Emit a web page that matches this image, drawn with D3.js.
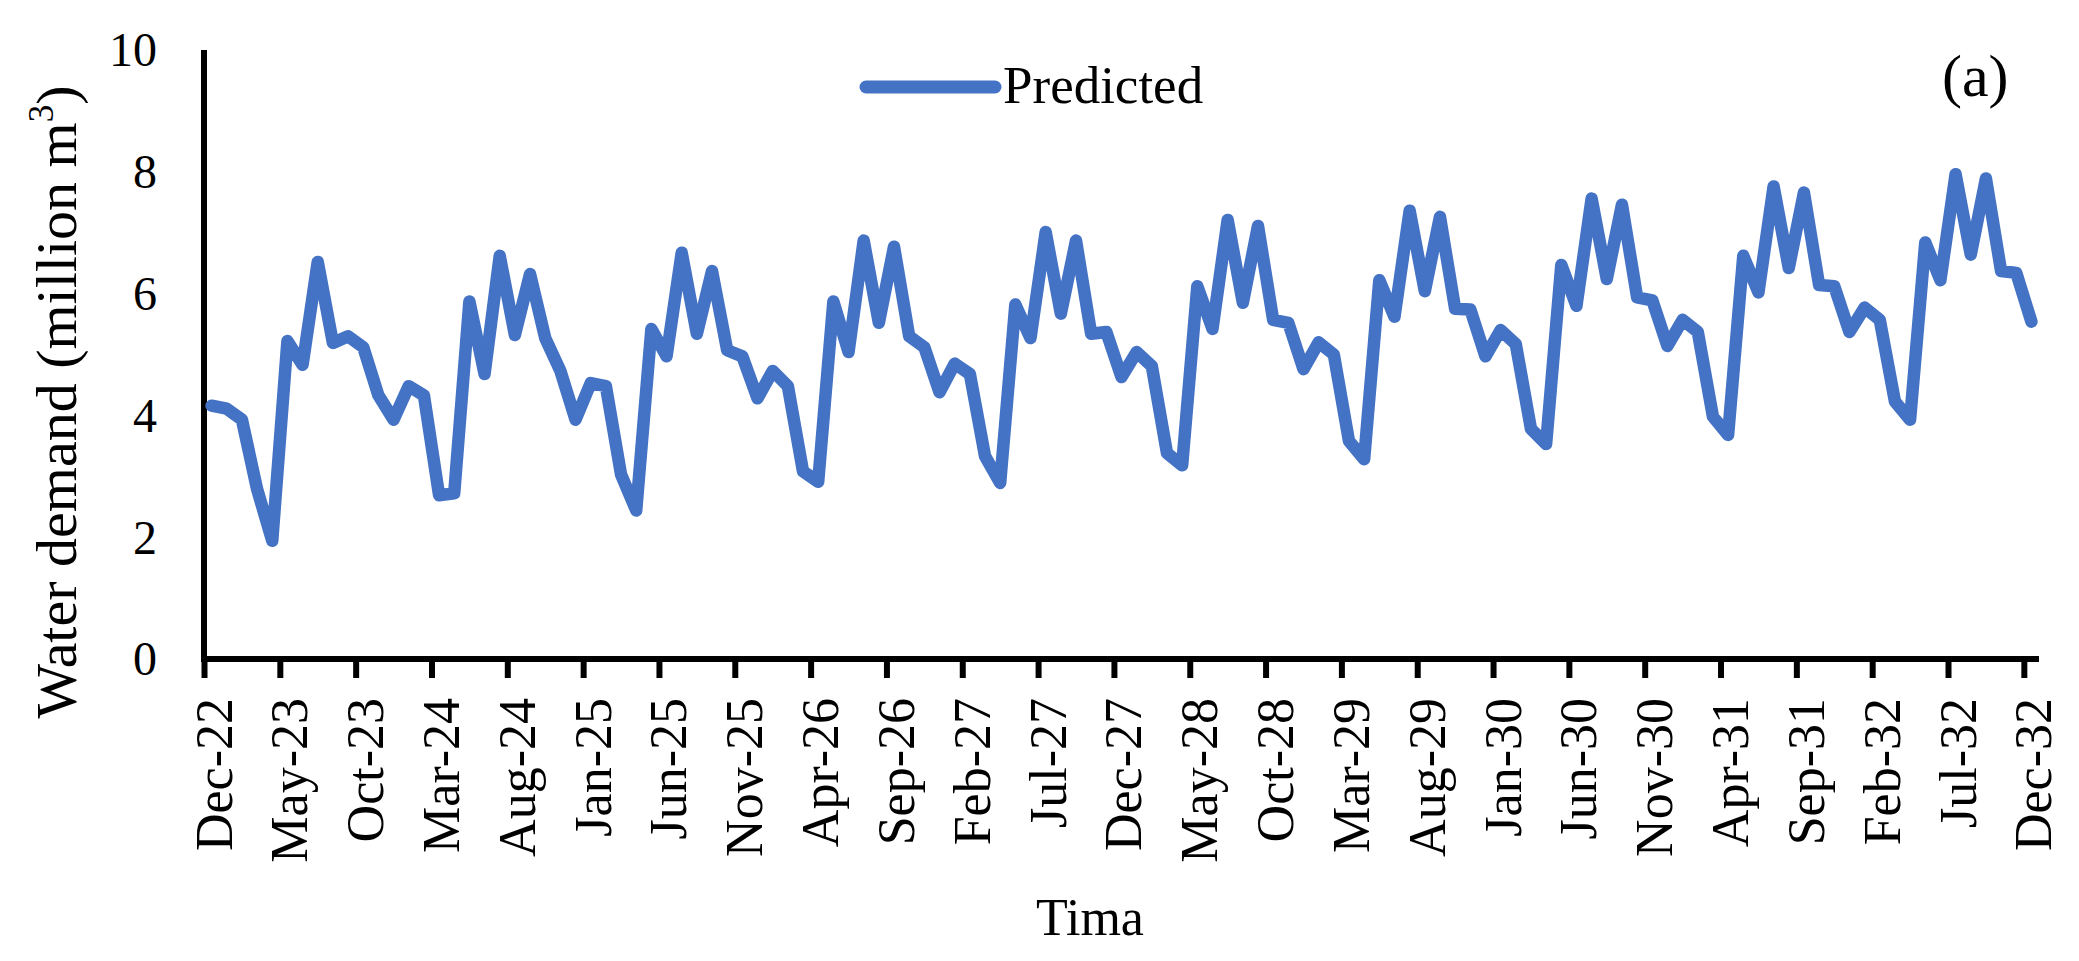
<!DOCTYPE html>
<html>
<head>
<meta charset="utf-8">
<script src="https://cdn.jsdelivr.net/npm/d3@7/dist/d3.min.js"></script>
<style>
  html, body { margin: 0; padding: 0; background: #ffffff; }
  svg { display: block; }
  text { font-family: "Liberation Serif", "Times New Roman", serif; fill: #000; }
</style>
</head>
<body>
<script>
// ---- Data ----
const tickLabels = ["Dec-22","May-23","Oct-23","Mar-24","Aug-24","Jan-25","Jun-25","Nov-25","Apr-26","Sep-26",
  "Feb-27","Jul-27","Dec-27","May-28","Oct-28","Mar-29","Aug-29","Jan-30","Jun-30","Nov-30",
  "Apr-31","Sep-31","Feb-32","Jul-32","Dec-32"];
const yTicks = [0, 2, 4, 6, 8, 10];
const seriesName = "Predicted";
// monthly predicted water demand, Dec-22 .. Dec-32 (million m3)
const predicted = [
  4.16, 4.11, 3.93, 2.79, 1.94, 5.22, 4.83, 6.52, 5.19, 5.30, 5.12, 4.33,
  3.93, 4.48, 4.33, 2.69, 2.72, 5.87, 4.68, 6.62, 5.32, 6.32, 5.27, 4.73,
  3.93, 4.53, 4.48, 3.03, 2.44, 5.42, 4.97, 6.67, 5.34, 6.37, 5.07, 4.97,
  4.28, 4.73, 4.48, 3.08, 2.91, 5.87, 5.04, 6.87, 5.52, 6.77, 5.30, 5.12,
  4.38, 4.85, 4.68, 3.33, 2.89, 5.82, 5.27, 7.01, 5.67, 6.87, 5.34, 5.37,
  4.63, 5.04, 4.81, 3.38, 3.18, 6.12, 5.42, 7.21, 5.85, 7.11, 5.57, 5.52,
  4.76, 5.20, 5.00, 3.58, 3.28, 6.22, 5.62, 7.36, 6.04, 7.26, 5.75, 5.74,
  4.97, 5.40, 5.17, 3.78, 3.53, 6.47, 5.80, 7.56, 6.24, 7.46, 5.94, 5.89,
  5.14, 5.57, 5.37, 3.98, 3.68, 6.62, 6.02, 7.76, 6.42, 7.66, 6.14, 6.12,
  5.37, 5.77, 5.57, 4.23, 3.93, 6.84, 6.22, 7.96, 6.64, 7.89, 6.37, 6.34,
  5.54
];

// ---- Layout ----
const W = 2079, H = 961;
const svg = d3.select("body").append("svg").attr("width", W).attr("height", H);
svg.append("rect").attr("width", W).attr("height", H).attr("fill", "#fff");

const nMonths = predicted.length; // 121
const x = d3.scaleLinear().domain([0, nMonths]).range([204, 2039]);
const y = d3.scaleLinear().domain([0, 10]).range([659, 50]);

const serif = '"Liberation Serif", "Times New Roman", serif';

// ---- X axis ----
const tickVals = tickLabels.map((_, k) => k * 5);
const xAxis = d3.axisBottom(x)
  .tickValues(tickVals)
  .tickFormat(d => tickLabels[d / 5])
  .tickSize(19)
  .tickSizeOuter(0);
const gx = svg.append("g").attr("transform", `translate(0,${y(0)})`).call(xAxis);
gx.select(".domain").remove();
gx.selectAll(".tick line").attr("stroke", "#000").attr("stroke-width", 6);
gx.selectAll(".tick text")
  .attr("font-family", serif)
  .attr("font-size", 52)
  .attr("fill", "#000")
  .attr("transform", "rotate(-90)")
  .attr("x", -39)
  .attr("y", 27)
  .attr("dy", 0)
  .attr("text-anchor", "end");

// ---- Y axis ----
const yAxis = d3.axisLeft(y).tickValues(yTicks).tickSize(0).tickPadding(47).tickFormat(d3.format("d"));
const gy = svg.append("g").attr("transform", `translate(${x(0)},0)`).call(yAxis);
gy.select(".domain").remove();
gy.selectAll(".tick text")
  .attr("font-family", serif)
  .attr("font-size", 48)
  .attr("fill", "#000")
  .attr("dy", "0.33em");

// axis lines
svg.append("line")
  .attr("x1", x(0)).attr("x2", x(0))
  .attr("y1", y(10)).attr("y2", y(0) + 3)
  .attr("stroke", "#000").attr("stroke-width", 6);
svg.append("line")
  .attr("x1", x(0) - 3).attr("x2", x(nMonths))
  .attr("y1", y(0)).attr("y2", y(0))
  .attr("stroke", "#000").attr("stroke-width", 6);

// ---- Series line ----
const line = d3.line()
  .x((d, i) => x(i + 0.5))
  .y(d => y(d));
svg.append("path")
  .datum(predicted)
  .attr("d", line)
  .attr("fill", "none")
  .attr("stroke", "#4472C4")
  .attr("stroke-width", 12.5)
  .attr("stroke-linejoin", "round")
  .attr("stroke-linecap", "round");

// ---- Legend ----
svg.append("line")
  .attr("x1", 866).attr("x2", 995)
  .attr("y1", 87).attr("y2", 87)
  .attr("stroke", "#4472C4").attr("stroke-width", 13)
  .attr("stroke-linecap", "round");
svg.append("text")
  .attr("x", 1003).attr("y", 103)
  .attr("font-family", serif).attr("font-size", 53)
  .text(seriesName);

// panel label
svg.append("text")
  .attr("x", 1942).attr("y", 96)
  .attr("font-family", serif).attr("font-size", 60)
  .text("(a)");

// ---- Axis titles ----
svg.append("text")
  .attr("x", 1090).attr("y", 935)
  .attr("text-anchor", "middle")
  .attr("font-family", serif).attr("font-size", 52)
  .text("Tima");

const yt = svg.append("text")
  .attr("transform", "translate(76,402) rotate(-90)")
  .attr("text-anchor", "middle")
  .attr("font-family", serif).attr("font-size", 58);
yt.append("tspan").text("Water demand (million m");
yt.append("tspan").attr("font-size", 35).attr("dy", -23).text("3");
yt.append("tspan").attr("dy", 23).text(")");
</script>
</body>
</html>
